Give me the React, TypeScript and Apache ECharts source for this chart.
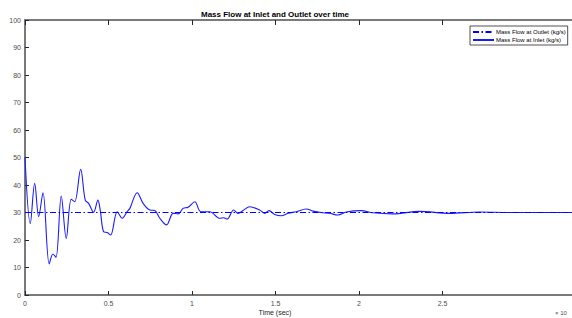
import React, { useEffect, useRef } from "react";
import * as echarts from "echarts";

const titleText = "Mass Flow at Inlet and Outlet over time";
const xAxisTitle = "Time (sec)";
const seriesNames = ["Mass Flow at Outlet (kg/s)", "Mass Flow at Inlet (kg/s)"];
const xTickValues = [0, 5000, 10000, 15000, 20000, 25000];
const xMax = 32750;

// time (s)
const inletTime = [
  0, 317, 580, 819, 1076, 1453, 1674, 1854, 2171, 2470, 2769, 2972, 3331, 3606, 3809,
  4108, 4365, 4503, 4706, 4922, 5125, 5520, 5819, 6118, 6279, 6716, 7074, 7475, 7774,
  8073, 8474, 8868, 9167, 9467, 9766, 10166, 10525, 11063, 11661, 11900, 12098, 12498,
  12755, 13054, 13455, 14053, 14352, 14609, 14950, 15351, 15746, 16248, 16846, 17241,
  17839, 18239, 18735, 19238, 20135, 20828, 22024, 23621, 25415, 27209, 29000, 32750,
];
// kg/s
const inletFlow = [
  50, 26, 40.6, 28.5, 37.2, 11.3, 14.9, 13.7, 36, 20.6, 34.8, 33.9, 45.7, 34.5, 33.3,
  30.1, 34.5, 30.9, 23, 22.7, 21.8, 30.3, 27.9, 30.3, 31.5, 37.2, 33.3, 30.9, 30.7,
  27.9, 25.5, 29.7, 29.5, 31.5, 31.9, 33.9, 30.3, 30.3, 27.9, 28.1, 27.6, 30.9,
  29.7, 30.7, 32.1, 30.9, 29.7, 30.7, 29.3, 28.8, 29.7, 30.3, 31.3, 30.5,
  29.9, 29.7, 29.1, 30.2, 30.7, 29.9, 29.5, 30.4, 29.7, 30.2, 30, 30,
];
const outletTime = [0, 32750];
const outletFlow = [30, 30];

const FONT = "Liberation Sans, Arial, Helvetica, sans-serif";

export default function App() {
  const ref = useRef<HTMLDivElement>(null);
  useEffect(() => {
    if (!ref.current) return;
    const chart = echarts.init(ref.current, null, { renderer: "svg" });
    const axisLineStyle = { color: "#7a7a7a", width: 2 };
    const tickStyle = { color: "#262626", width: 1 };
    chart.setOption({
      animation: false,
      backgroundColor: "#fff",
      textStyle: { fontFamily: FONT },
      grid: { left: 25, right: 0, top: 20, bottom: 23, containLabel: false },
      legend: {
        orient: "vertical",
        left: 470,
        top: 26,
        width: 98,
        padding: [3, 2, 2, 2],
        itemGap: 2,
        itemWidth: 21,
        itemHeight: 6,
        backgroundColor: "#fff",
        borderColor: "#262626",
        borderWidth: 0.8,
        borderRadius: 0,
        itemStyle: { opacity: 0, borderWidth: 0 },
        textStyle: { fontSize: 6, color: "#000", fontFamily: FONT, padding: [0, 0, 0, -3] },
        data: seriesNames,
      },
      xAxis: [
        {
          type: "value",
          min: 0,
          max: xMax,
          interval: 5000,
          axisLine: { show: true, onZero: false, lineStyle: axisLineStyle },
          axisTick: { show: true, inside: true, length: 4, lineStyle: tickStyle, customValues: xTickValues },
          axisLabel: {
            fontSize: 7,
            color: "#4d4d4d",
            margin: 5,
            customValues: xTickValues,
            formatter: (v: number) => String(v / 10000),
          },
          splitLine: { show: false },
        },
        {
          type: "value",
          position: "top",
          min: 0,
          max: xMax,
          interval: 5000,
          axisLine: { show: true, onZero: false, lineStyle: axisLineStyle },
          axisTick: { show: true, inside: true, length: 5, lineStyle: tickStyle, customValues: xTickValues },
          axisLabel: { show: false },
          splitLine: { show: false },
        },
      ],
      yAxis: [
        {
          type: "value",
          min: 0,
          max: 100,
          interval: 10,
          axisLine: { show: true, onZero: false, lineStyle: axisLineStyle },
          axisTick: { show: true, inside: true, length: 4, lineStyle: tickStyle },
          axisLabel: { fontSize: 7, color: "#4d4d4d", margin: 4 },
          splitLine: { show: false },
        },
      ],
      graphic: [
        {
          type: "text",
          x: 275,
          y: 14,
          style: {
            text: titleText,
            font: `bold 8px ${FONT}`,
            fill: "#000",
            textAlign: "center",
            textVerticalAlign: "middle",
          },
        },
        {
          type: "text",
          x: 275,
          y: 312.5,
          style: {
            text: xAxisTitle,
            font: `7px ${FONT}`,
            fill: "#262626",
            textAlign: "center",
            textVerticalAlign: "middle",
          },
        },
        {
          type: "text",
          x: 555,
          y: 313,
          style: {
            text: "× 10",
            font: `6px ${FONT}`,
            fill: "#4d4d4d",
            textAlign: "left",
            textVerticalAlign: "middle",
          },
        },
      ],
      series: [
        {
          name: seriesNames[0],
          type: "line",
          symbol: "none",
          data: outletTime.map((t, i) => [t, outletFlow[i]]),
          lineStyle: { color: "#0000ff", width: 1.2, type: [6, 2.5, 1.5, 2.5] },
          itemStyle: { color: "#0000ff" },
          z: 3,
        },
        {
          name: seriesNames[1],
          type: "line",
          symbol: "none",
          smooth: 0.35,
          data: inletTime.map((t, i) => [t, inletFlow[i]]),
          lineStyle: { color: "#1a1aff", width: 1.1 },
          itemStyle: { color: "#0000ff" },
          z: 2,
        },
      ],
    });
    return () => chart.dispose();
  }, []);
  return (
    <div
      ref={ref}
      style={{ position: "fixed", left: 0, top: 0, width: 572, height: 318 }}
    />
  );
}
